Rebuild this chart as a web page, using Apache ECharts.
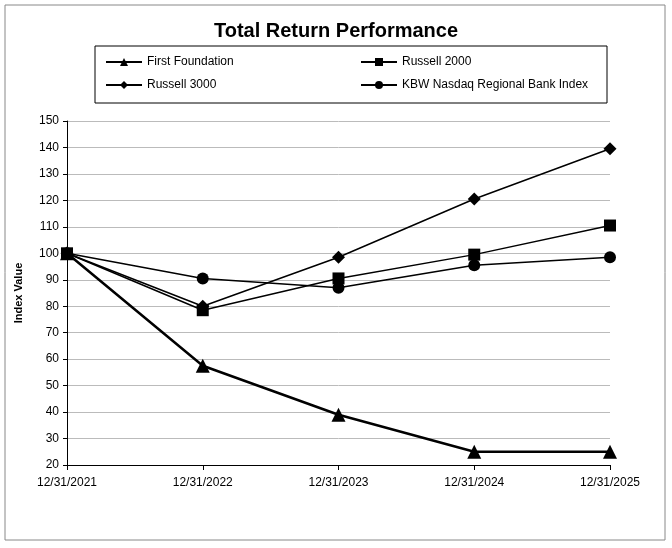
<!DOCTYPE html>
<html><head><meta charset="utf-8">
<script src="https://cdn.jsdelivr.net/npm/echarts@6/dist/echarts.min.js"></script>
<style>html,body{margin:0;padding:0;background:#fff}#c{width:672px;height:548px}</style>
</head><body><div id="c"></div>
<script>
const categories = ['12/31/2021','12/31/2022','12/31/2023','12/31/2024','12/31/2025'];
const firstFoundation = [100, 57.5, 39, 25, 25];
const russell2000 = [100, 78.5, 90.5, 99.5, 110.5];
const russell3000 = [100, 80, 98.5, 120.5, 139.5];
const kbw = [100, 90.5, 87, 95.5, 98.5];
const font = 'Liberation Sans';
function s(name, data, symbol, size, w){
  return {name, type:'line', data, symbol, symbolSize:size, showSymbol:true,
    lineStyle:{color:'#000', width:w}, itemStyle:{color:'#000'}, emphasis:{disabled:true}};
}
const chart = echarts.init(document.getElementById('c'));
chart.setOption({
  animation:false,
  textStyle:{fontFamily:font},
  title:{text:'Total Return Performance', left:'center', top:16,
    textStyle:{fontFamily:font, fontSize:20, fontWeight:'bold', color:'#000'}},
  graphic:[
    {type:'rect', shape:{x:5,y:5,width:660,height:535}, style:{fill:'none', stroke:'#888', lineWidth:1}},
    {type:'rect', shape:{x:95,y:46,width:512,height:57}, style:{fill:'none', stroke:'#000', lineWidth:1}}
  ],
  legend:[
    {data:['First Foundation','Russell 3000'], orient:'vertical', left:100, top:51, itemGap:11, itemWidth:36, itemHeight:10,
     textStyle:{fontFamily:font, fontSize:12, color:'#000'}},
    {data:['Russell 2000','KBW Nasdaq Regional Bank Index'], orient:'vertical', left:355, top:51, itemGap:11, itemWidth:36, itemHeight:10,
     textStyle:{fontFamily:font, fontSize:12, color:'#000'}}
  ],
  grid:{left:67, right:62, top:121, bottom:83},
  xAxis:{type:'category', data:categories, boundaryGap:false,
    axisLine:{lineStyle:{color:'#000'}}, axisTick:{show:true, alignWithLabel:true, length:5, lineStyle:{color:'#000'}},
    axisLabel:{color:'#000', fontSize:12, margin:12}},
  yAxis:{type:'value', min:20, max:150, interval:10, name:'Index Value', nameLocation:'middle', nameGap:43,
    nameTextStyle:{fontFamily:font, fontSize:11, fontWeight:'bold', color:'#000'},
    axisLine:{show:true, lineStyle:{color:'#000'}}, axisTick:{show:true, length:4, lineStyle:{color:'#000'}},
    axisLabel:{color:'#000', fontSize:12},
    splitLine:{lineStyle:{color:'#bbb'}}},
  series:[
    s('First Foundation', firstFoundation, 'triangle', 14, 2.5),
    s('Russell 2000', russell2000, 'rect', 12, 1.5),
    s('Russell 3000', russell3000, 'diamond', 13, 1.5),
    s('KBW Nasdaq Regional Bank Index', kbw, 'circle', 12, 1.5)
  ]
});
</script></body></html>
